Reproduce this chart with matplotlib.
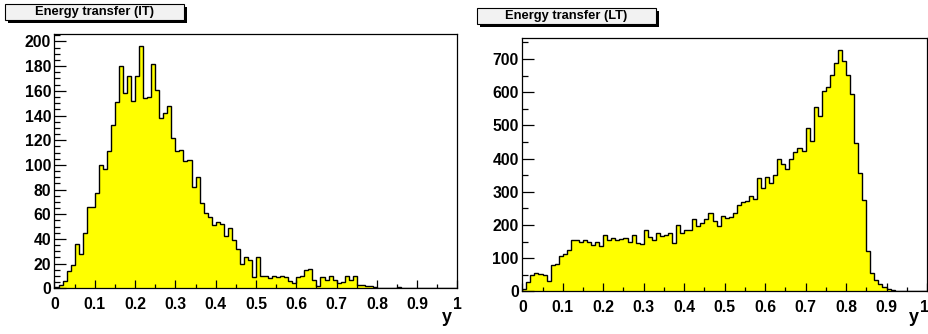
import numpy as np
import matplotlib
matplotlib.use("Agg")
import matplotlib.pyplot as plt
from matplotlib.patches import Rectangle
from matplotlib.ticker import MultipleLocator, FuncFormatter
from matplotlib import font_manager
import matplotlib.transforms as mtransforms

# ---------------- data (100 bins in y from 0 to 1) ----------------
it_counts = [1, 3, 6, 14, 19, 36, 28, 45, 66, 66,
             77, 100, 97, 111, 132, 151, 180, 158, 172, 152,
             172, 196, 154, 155, 182, 161, 138, 142, 148, 122,
             111, 112, 103, 104, 82, 90, 69, 61, 58, 51,
             54, 52, 42, 49, 39, 32, 20, 25, 23, 9,
             25, 10, 10, 8, 10, 9, 10, 9, 6, 4,
             9, 10, 15, 16, 7, 2, 9, 7, 10, 7,
             4, 5, 10, 7, 10, 3, 3, 2, 2, 1,
             0, 0, 0, 0, 0, 1, 0, 0, 0, 0,
             0, 0, 0, 0, 0, 0, 0, 0, 0, 0]

lt_counts = [8, 27, 50, 55, 53, 48, 30, 79, 82, 105,
             111, 124, 154, 154, 149, 155, 150, 140, 149, 138,
             170, 156, 162, 156, 157, 160, 149, 169, 146, 144,
             184, 165, 154, 176, 167, 169, 177, 147, 200, 177,
             184, 184, 219, 198, 205, 219, 237, 212, 197, 227,
             220, 225, 235, 260, 268, 271, 287, 278, 341, 310,
             343, 326, 349, 400, 385, 370, 400, 421, 432, 424,
             492, 454, 554, 528, 604, 617, 653, 687, 727, 695,
             653, 595, 447, 356, 275, 122, 55, 34, 22, 12,
             7, 4, 2, 1, 0, 0, 0, 0, 0, 0]

bin_edges = np.linspace(0.0, 1.0, 101)
titles = ["Energy transfer (IT)", "Energy transfer (LT)"]
x_title = "y"

# ---------------- figure ----------------
W, H = 929, 334
fig = plt.figure(figsize=(W / 100, H / 100), dpi=100)
fig.patch.set_facecolor("white")

avail = {f.name for f in font_manager.fontManager.ttflist}
tick_font = "Liberation Sans" if "Liberation Sans" in avail else "DejaVu Sans"
title_font = "Liberation Sans Narrow" if "Liberation Sans Narrow" in avail else tick_font


def px_rect(x0, y0, x1, y1):
    return [x0 / W, 1 - y1 / H, (x1 - x0) / W, (y1 - y0) / H]


def fmt(v, pos):
    return "%g" % round(v, 3)


def draw_hist(ax, counts, ymajor, yminor):
    ax.stairs(counts, bin_edges, fill=True, color="#ffff00", baseline=0, zorder=1)
    ax.stairs(counts, bin_edges, color="black", lw=1.0, baseline=0, zorder=2)
    ax.set_xlim(0, 1)
    ax.set_ylim(0, max(counts) * 1.05)
    ax.xaxis.set_major_locator(MultipleLocator(0.1))
    ax.xaxis.set_minor_locator(MultipleLocator(0.05))
    ax.yaxis.set_major_locator(MultipleLocator(ymajor))
    ax.yaxis.set_minor_locator(MultipleLocator(yminor))
    ax.xaxis.set_major_formatter(FuncFormatter(fmt))
    ax.yaxis.set_major_formatter(FuncFormatter(fmt))
    ax.tick_params(axis="x", which="major", direction="in", length=5.8, width=0.9,
                   pad=6.5, top=False)
    ax.tick_params(axis="x", which="minor", direction="in", length=2.9, width=0.9, top=False)
    ax.tick_params(axis="y", which="major", direction="in", length=8.6, width=0.9,
                   pad=2.5, right=False)
    ax.tick_params(axis="y", which="minor", direction="in", length=4.3, width=0.9, right=False)
    for lab in ax.get_xticklabels() + ax.get_yticklabels():
        lab.set_fontfamily(tick_font)
        lab.set_fontweight("bold")
        lab.set_fontsize(11.3)
    for sp in ax.spines.values():
        sp.set_linewidth(0.9)
        sp.set_color("black")
        sp.set_zorder(3)


ax1 = fig.add_axes(px_rect(54.5, 34.3, 457.5, 288.3))
draw_hist(ax1, it_counts, 20, 5)
ax2 = fig.add_axes(px_rect(522.3, 38.0, 927.0, 291.3))
draw_hist(ax2, lt_counts, 100, 50)

# keep the last x label of the right panel inside the canvas
fig.canvas.draw()
for lab in ax2.get_xticklabels():
    if lab.get_text() == "1":
        lab.set_transform(lab.get_transform() +
                          mtransforms.ScaledTranslation(-2.6 / 100, 0, fig.dpi_scale_trans))

# x-axis titles
for xr in (452, 918.5):
    fig.text(xr / W, 1 - 322 / H, x_title, ha="right", va="baseline",
             fontsize=13, fontweight="bold", fontfamily=tick_font)


# title boxes with shadow (ROOT style)
def title_box(x0, y0, x1, y1, text):
    sh = 3
    fig.patches.append(Rectangle(((x0 + sh) / W, 1 - (y1 + sh) / H), (x1 - x0) / W, (y1 - y0) / H,
                                 transform=fig.transFigure, facecolor="black",
                                 edgecolor="none", zorder=5))
    fig.patches.append(Rectangle((x0 / W, 1 - y1 / H), (x1 - x0) / W, (y1 - y0) / H,
                                 transform=fig.transFigure, facecolor="#f2f2f2",
                                 edgecolor="black", lw=0.8, zorder=6))
    fig.text((x0 + x1) / 2 / W, 1 - (y0 + y1) / 2 / H, text, ha="center", va="center",
             fontsize=9.3, fontweight="bold", fontfamily=title_font, zorder=7)


title_box(5, 4, 184, 20, titles[0])
title_box(477, 8, 656, 24, titles[1])

fig.savefig("out.png", dpi=100)
